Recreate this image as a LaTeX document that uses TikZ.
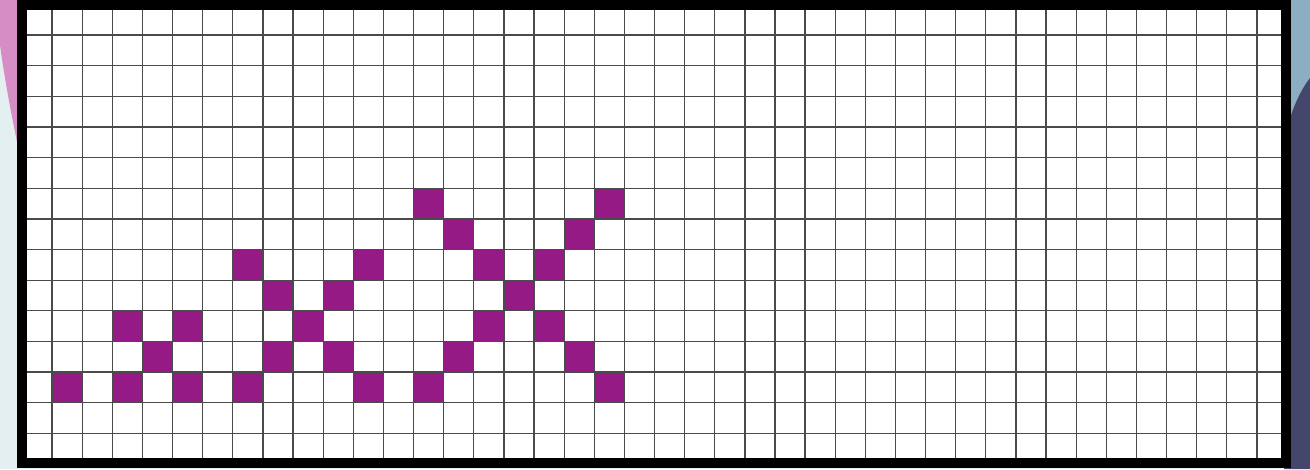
\documentclass[tikz,border=0pt]{standalone}
\definecolor{purp}{HTML}{961A86}
\definecolor{bgblue}{HTML}{E3EFF1}
\definecolor{pinkbg}{HTML}{D68CC4}
\definecolor{rightblue}{HTML}{8DADC2}
\definecolor{navybg}{HTML}{45466C}
\definecolor{gridc}{HTML}{4A4A4A}
\tikzset{
  gridline/.style={draw=gridc, line width=1.3pt},
  cellfill/.style={fill=purp},
  frame/.style={draw=black, line width=10pt}
}
\begin{document}
\begin{tikzpicture}[x=1pt,y=-1pt]
\useasboundingbox (0,0) rectangle (1310,469);
\fill[bgblue] (0,0) rectangle (1310,469);
\fill[pinkbg] (0,0) -- (22,0) -- (22,165) .. controls (12,120) and (4,75) .. (0,45) -- cycle;
\fill[rightblue] (1284,0) rectangle (1310,469);
\fill[navybg] (1284,469) -- (1284,138) .. controls (1291,112) and (1299,92) .. (1310,78) -- (1310,469) -- cycle;
\fill[white] (22,4.4) rectangle (1287,464);
\foreach \c/\r in {1/12, 3/10,5/10,4/11,3/12,5/12,
  7/8,11/8,8/9,10/9,9/10,8/11,10/11,7/12,11/12,
  13/6,19/6,14/7,18/7,15/8,17/8,16/9,15/10,17/10,14/11,18/11,13/12,19/12}
  \fill[cellfill] ({22+\c*30.12},{4.4+\r*30.64}) rectangle ({22+(\c+1)*30.12},{4.4+(\r+1)*30.64});
\foreach \i in {1,...,41}
  \draw[gridline] ({22+\i*30.12},4.4) -- ({22+\i*30.12},464);
\foreach \j in {1,...,14}
  \draw[gridline] (22,{4.4+\j*30.64}) -- (1287,{4.4+\j*30.64});
\draw[frame] (22,4.6) rectangle (1286,463.2);
\end{tikzpicture}
\end{document}
